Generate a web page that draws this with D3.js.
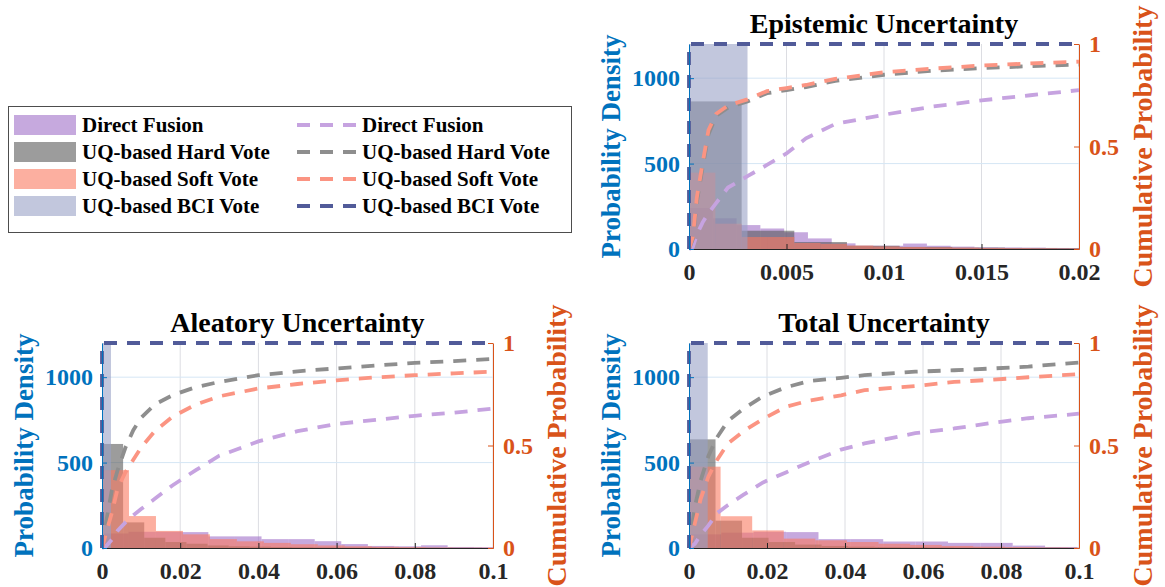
<!DOCTYPE html>
<html>
<head>
<meta charset="utf-8">
<script src="https://cdn.jsdelivr.net/npm/d3@7"></script>
<style>
  body { margin: 0; background: #fff; }
  text { font-family: "Liberation Serif", "Times New Roman", serif; font-weight: bold; }
</style>
</head>
<body>
<script>
// ---- series names / ticks ----
var seriesNames = ['Direct Fusion', 'UQ-based Hard Vote', 'UQ-based Soft Vote', 'UQ-based BCI Vote'];
var densityTicks = [0, 500, 1000];
var cumTicks = [0, 0.5, 1];
var epiTicks = [0, 0.005, 0.01, 0.015, 0.02];
var epiTickLabels = ['0', '0.005', '0.01', '0.015', '0.02'];
var wideTicks = [0, 0.02, 0.04, 0.06, 0.08, 0.1];
var wideTickLabels = ['0', '0.02', '0.04', '0.06', '0.08', '0.1'];

// ---- Epistemic: histograms (bin width + heights) ----
var epiBinWidth = [0.00122, 0.0027, 0.00135, 0.003];
var epiDirectHist = [240, 180, 140, 120, 98, 62, 33, 19, 19, 32, 19, 14, 10, 9, 8, 6, 5];
var epiHardHist = [864, 107, 41, 19, 12, 8, 6, 5];
var epiSoftHist = [447, 148, 70, 70, 35, 30, 20, 15, 12, 10, 8, 6, 5, 4, 3];
var epiBciHist = [1500];
// ---- Epistemic: cumulative curves ----
var epiCdfX = [0, 0.0002, 0.0004, 0.0007, 0.001, 0.0014, 0.002, 0.003, 0.004, 0.005, 0.006, 0.0075, 0.01, 0.0125, 0.015, 0.0175, 0.02];
var epiDirectCdf = [0, 0.01, 0.07, 0.13, 0.175, 0.225, 0.30, 0.355, 0.41, 0.466, 0.54, 0.61, 0.655, 0.695, 0.725, 0.75, 0.775];
var epiHardCdf = [0, 0.05, 0.23, 0.40, 0.56, 0.65, 0.69, 0.72, 0.76, 0.775, 0.79, 0.82, 0.85, 0.87, 0.882, 0.892, 0.90];
var epiSoftCdf = [0, 0.06, 0.25, 0.42, 0.58, 0.66, 0.70, 0.73, 0.77, 0.785, 0.80, 0.83, 0.862, 0.88, 0.895, 0.905, 0.914];

// ---- Aleatory ----
var aleBinWidth = [0.0068, 0.0054, 0.0069, 0.0023];
var aleDirectHist = [85, 95, 95, 93, 68, 68, 52, 52, 40, 23, 12, 10, 16, 6, 5];
var aleHardHist = [609, 150, 60, 35, 25, 15, 10, 8, 6, 5, 4, 3, 3, 2, 2, 2, 1, 1];
var aleSoftHist = [456, 187, 100, 80, 52, 39, 30, 22, 15, 10, 7, 5, 3, 2, 2];
var aleBciHist = [1500];
var aleCdfX = [0, 0.001, 0.0025, 0.004, 0.006, 0.008, 0.01, 0.0135, 0.018, 0.024, 0.03, 0.04, 0.05, 0.06, 0.07, 0.08, 0.09, 0.1];
var aleDirectCdf = [0, 0.008, 0.04, 0.085, 0.125, 0.16, 0.19, 0.24, 0.305, 0.38, 0.45, 0.52, 0.57, 0.605, 0.625, 0.645, 0.66, 0.68];
var aleHardCdf = [0, 0.12, 0.28, 0.38, 0.49, 0.575, 0.635, 0.70, 0.745, 0.785, 0.81, 0.843, 0.862, 0.876, 0.89, 0.903, 0.912, 0.922];
var aleSoftCdf = [0, 0.07, 0.17, 0.29, 0.37, 0.43, 0.49, 0.57, 0.64, 0.70, 0.74, 0.778, 0.80, 0.818, 0.832, 0.843, 0.852, 0.86];

// ---- Total ----
var totBinWidth = [0.0083, 0.0068, 0.0081, 0.0048];
var totDirectHist = [80, 90, 95, 93, 52, 52, 38, 38, 30, 30, 14, 6];
var totHardHist = [636, 160, 60, 35, 20, 12, 8, 6, 5, 4, 3, 2, 2, 2, 1];
var totSoftHist = [476, 186, 103, 55, 45, 35, 25, 18, 12, 8, 5, 3, 2];
var totBciHist = [1500];
var totCdfX = [0, 0.0015, 0.003, 0.005, 0.0072, 0.01, 0.014, 0.019, 0.025, 0.031, 0.039, 0.045, 0.058, 0.068, 0.077, 0.087, 0.1];
var totDirectCdf = [0, 0.02, 0.065, 0.11, 0.17, 0.21, 0.26, 0.32, 0.37, 0.42, 0.48, 0.51, 0.56, 0.583, 0.608, 0.633, 0.655];
var totHardCdf = [0, 0.2, 0.33, 0.45, 0.54, 0.62, 0.68, 0.74, 0.785, 0.815, 0.83, 0.843, 0.86, 0.867, 0.875, 0.885, 0.905];
var totSoftCdf = [0, 0.12, 0.24, 0.35, 0.43, 0.51, 0.57, 0.63, 0.69, 0.72, 0.745, 0.77, 0.79, 0.81, 0.82, 0.833, 0.848];

// BCI cdf jumps straight to 1 at x = 0
var bciCdf = [0, 1, 1];

// colours
var histColors = ['#a070c8', '#5a5a5a', '#fa7a60', '#9aa2c6'];
var lineColors = ['#c6a3e0', '#8e8e8e', '#fb9482', '#515b99'];
var blue = '#0072BD', orange = '#D95319';
var serif = '"Liberation Serif", "Times New Roman", serif';

var width = 1165, height = 587;
var svg = d3.select('body').append('svg').attr('width', width).attr('height', height);

function drawPanel(p, idx) {
  var xmax = p.ticks[p.ticks.length - 1];
  var x = d3.scaleLinear().domain([0, xmax]).range([p.left, p.right]);
  var yL = d3.scaleLinear().domain([0, 1200]).range([p.bottom, p.top]);
  var yR = d3.scaleLinear().domain([0, 1]).range([p.bottom, p.top]);

  var g = svg.append('g');
  var clipId = 'clip' + idx;
  g.append('clipPath').attr('id', clipId).append('rect')
    .attr('x', p.left).attr('y', p.top).attr('width', p.right - p.left).attr('height', p.bottom - p.top);

  // grid
  g.selectAll('.vgrid').data(p.ticks.slice(1)).enter().append('line')
    .attr('x1', function (d) { return x(d); }).attr('x2', function (d) { return x(d); })
    .attr('y1', p.top).attr('y2', p.bottom)
    .attr('stroke', '#dcdde2').attr('stroke-width', 1);
  g.selectAll('.hgrid').data(densityTicks.slice(1)).enter().append('line')
    .attr('x1', p.left).attr('x2', p.right)
    .attr('y1', function (d) { return yL(d); }).attr('y2', function (d) { return yL(d); })
    .attr('stroke', '#d5e6f5').attr('stroke-width', 1);

  // histograms
  var hg = g.append('g').attr('clip-path', 'url(#' + clipId + ')');
  p.hists.forEach(function (h, s) {
    var w = p.binWidth[s];
    var bins = h.map(function (v, i) { return {x0: i * w, x1: Math.min((i + 1) * w, xmax), v: v}; })
      .filter(function (b) { return b.x0 < xmax; });
    hg.selectAll('.bar' + s).data(bins).enter().append('rect')
      .attr('x', function (d) { return x(d.x0); })
      .attr('y', function (d) { return yL(d.v); })
      .attr('width', function (d) { return x(d.x1) - x(d.x0); })
      .attr('height', function (d) { return yL(0) - yL(d.v); })
      .attr('fill', histColors[s]).attr('fill-opacity', 0.6);
  });

  // cumulative lines
  var line = d3.line().x(function (d) { return x(d[0]); }).y(function (d) { return yR(d[1]); });
  p.cdfs.forEach(function (c, s) {
    g.append('path').datum(p.cdfX.map(function (v, i) { return [v, c[i]]; }))
      .attr('d', line).attr('fill', 'none')
      .attr('stroke', lineColors[s]).attr('stroke-width', 3.8)
      .attr('stroke-dasharray', '13,10');
  });
  g.append('path').datum([[0, bciCdf[0]], [0, bciCdf[1]], [xmax, bciCdf[2]]])
    .attr('d', line).attr('fill', 'none')
    .attr('stroke', lineColors[3]).attr('stroke-width', 3.8)
    .attr('stroke-dasharray', '13,10');

  // axes
  var ax = g.append('g').attr('transform', 'translate(0,' + p.bottom + ')')
    .call(d3.axisBottom(x).tickValues(p.ticks).tickFormat(function (d, i) { return p.labels[i]; })
      .tickSizeInner(-5).tickSizeOuter(0).tickPadding(14));
  ax.select('.domain').attr('stroke', '#262626');
  ax.selectAll('line').attr('stroke', '#262626');
  ax.selectAll('text').attr('font-size', 24).attr('fill', '#262626').attr('font-family', serif);

  var al = g.append('g').attr('transform', 'translate(' + p.left + ',0)')
    .call(d3.axisLeft(yL).tickValues(densityTicks).tickFormat(function (d) { return String(d); })
      .tickSizeInner(-5).tickSizeOuter(0).tickPadding(9));
  al.select('.domain').attr('stroke', blue);
  al.selectAll('line').attr('stroke', blue);
  al.selectAll('text').attr('font-size', 24).attr('fill', blue).attr('font-family', serif);

  var ar = g.append('g').attr('transform', 'translate(' + p.right + ',0)')
    .call(d3.axisRight(yR).tickValues(cumTicks).tickFormat(function (d) { return String(d); })
      .tickSizeInner(-5).tickSizeOuter(0).tickPadding(10));
  ar.select('.domain').attr('stroke', orange);
  ar.selectAll('line').attr('stroke', orange);
  ar.selectAll('text').attr('font-size', 24).attr('fill', orange).attr('font-family', serif);

  // title + axis labels
  var cx = (p.left + p.right) / 2, cy = (p.top + p.bottom) / 2;
  g.append('text').attr('x', cx).attr('y', p.top - 11).attr('text-anchor', 'middle')
    .attr('font-size', 28).attr('fill', '#000').text(p.title);
  g.append('text').attr('transform', 'translate(' + (p.left - 78) + ',' + cy + ') rotate(-90)')
    .attr('text-anchor', 'middle').attr('dy', '0.35em')
    .attr('font-size', 27).attr('fill', blue).text('Probability Density');
  g.append('text').attr('transform', 'translate(' + (p.right + 63) + ',' + cy + ') rotate(-90)')
    .attr('text-anchor', 'middle').attr('dy', '0.35em')
    .attr('font-size', 28).attr('fill', orange).text('Cumulative Probability');
}

var panels = [
  {title: 'Epistemic Uncertainty', left: 689, right: 1079, top: 44, bottom: 249,
    ticks: epiTicks, labels: epiTickLabels, binWidth: epiBinWidth,
    hists: [epiDirectHist, epiHardHist, epiSoftHist, epiBciHist],
    cdfX: epiCdfX, cdfs: [epiDirectCdf, epiHardCdf, epiSoftCdf]},
  {title: 'Aleatory Uncertainty', left: 102, right: 493, top: 343, bottom: 548,
    ticks: wideTicks, labels: wideTickLabels, binWidth: aleBinWidth,
    hists: [aleDirectHist, aleHardHist, aleSoftHist, aleBciHist],
    cdfX: aleCdfX, cdfs: [aleDirectCdf, aleHardCdf, aleSoftCdf]},
  {title: 'Total Uncertainty', left: 689, right: 1079, top: 343, bottom: 548,
    ticks: wideTicks, labels: wideTickLabels, binWidth: totBinWidth,
    hists: [totDirectHist, totHardHist, totSoftHist, totBciHist],
    cdfX: totCdfX, cdfs: [totDirectCdf, totHardCdf, totSoftCdf]}
];
panels.forEach(drawPanel);

// legend
var leg = svg.append('g');
leg.append('rect').attr('x', 8.5).attr('y', 106.5).attr('width', 563).attr('height', 126)
  .attr('fill', '#fff').attr('stroke', '#4d4d4d').attr('stroke-width', 1);
var rowY = d3.scalePoint().domain(seriesNames).range([125, 206]);
seriesNames.forEach(function (name, i) {
  var yy = rowY(name);
  leg.append('rect').attr('x', 14).attr('y', yy - 10).attr('width', 62).attr('height', 20)
    .attr('fill', histColors[i]).attr('fill-opacity', 0.6);
  leg.append('text').attr('x', 82).attr('y', yy).attr('dy', '0.35em')
    .attr('font-size', 21).attr('fill', '#000').text(name);
  leg.append('line').attr('x1', 297).attr('x2', 358).attr('y1', yy).attr('y2', yy)
    .attr('stroke', lineColors[i]).attr('stroke-width', 3.8).attr('stroke-dasharray', '13,10');
  leg.append('text').attr('x', 362).attr('y', yy).attr('dy', '0.35em')
    .attr('font-size', 21).attr('fill', '#000').text(name);
});
</script>
</body>
</html>
